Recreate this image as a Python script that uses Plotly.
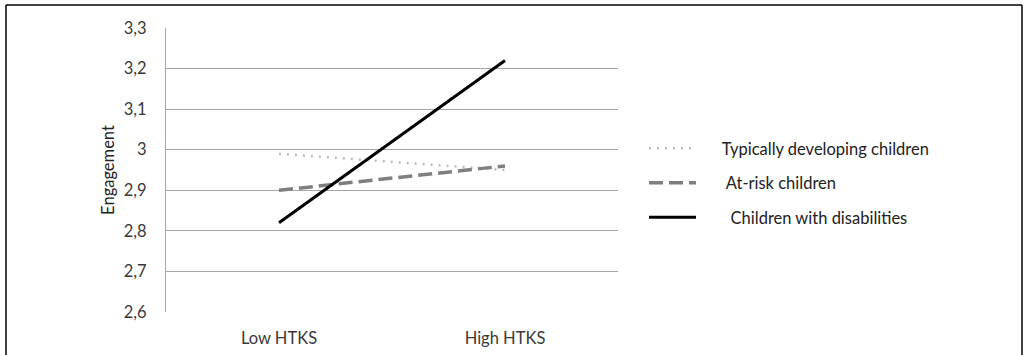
import plotly.graph_objects as go

categories = ["Low HTKS", "High HTKS"]
typical = [2.99, 2.95]
at_risk = [2.90, 2.96]
disabilities = [2.82, 3.22]
series_names = ["Typically developing children", "At-risk children", "Children with disabilities"]
legend_pad = [5, 6, 7]
y_ticks = [2.6, 2.7, 2.8, 2.9, 3.0, 3.1, 3.2, 3.3]
y_tick_labels = ["2,6", "2,7", "2,8", "2,9", "3", "3,1", "3,2", "3,3"]

FONT = "Lato, Open Sans, sans-serif"
TXT = "#3a3a3a"
FS = 16.5

fig = go.Figure()
styles = [
    dict(color="#bdbdbd", width=2.5, dash="2px,6px"),
    dict(color="#7f7f7f", width=3.5, dash="14px,6px"),
    dict(color="#000000", width=3, dash="solid"),
]
for i, (name, vals) in enumerate(zip(series_names, [typical, at_risk, disabilities])):
    fig.add_trace(go.Scatter(
        x=categories, y=vals, mode="lines", name="\u00a0" * legend_pad[i] + name,
        line=styles[i], legendgroup=f"g{i}",
    ))

# outer frame (left, top, right edges)
fx0, fx1 = (6 - 166) / 452, (1022 - 166) / 452
fy0, fy1 = (312 - 420) / 284, (312 - 5) / 284
frame = [
    dict(x0=fx0, x1=fx0, y0=fy0, y1=fy1),
    dict(x0=fx0, x1=fx1, y0=fy1, y1=fy1),
    dict(x0=fx1, x1=fx1, y0=fy0, y1=fy1),
]
shapes = [dict(type="line", xref="paper", yref="paper", layer="below",
               line=dict(color="black", width=1.5), **f) for f in frame]

fig.update_layout(
    width=1023, height=355,
    margin=dict(l=166, r=405, t=28, b=43),
    paper_bgcolor="white", plot_bgcolor="white",
    font=dict(family=FONT, size=FS, color=TXT),
    showlegend=True,
    legend=dict(
        x=(644 - 166) / 452, xanchor="left",
        y=(312 - 131) / 284, yanchor="top",
        font=dict(family=FONT, size=FS, color="#222"),
        tracegroupgap=10, traceorder="grouped",
        itemwidth=47, bgcolor="rgba(0,0,0,0)",
    ),
    xaxis=dict(
        type="category", range=[-0.5, 1.5], automargin=False,
        showgrid=False, showline=False, zeroline=False,
        ticks="", ticklabelstandoff=14,
        tickfont=dict(size=FS, color=TXT),
    ),
    yaxis=dict(
        range=[2.6, 3.3], tickvals=y_ticks, ticktext=y_tick_labels,
        showgrid=True, gridcolor="#a6a6a6", gridwidth=1,
        showline=True, linecolor="#a6a6a6", linewidth=1,
        zeroline=False, ticks="", ticklabelstandoff=15,
        tickfont=dict(size=FS, color=TXT),
        title=dict(text="Engagement", standoff=5, font=dict(size=FS, color="#222")),
    ),
    shapes=shapes,
)

fig.write_html("out.html", config={"displayModeBar": False},
               post_script="document.body.style.margin='0';document.body.style.overflow='hidden';")
